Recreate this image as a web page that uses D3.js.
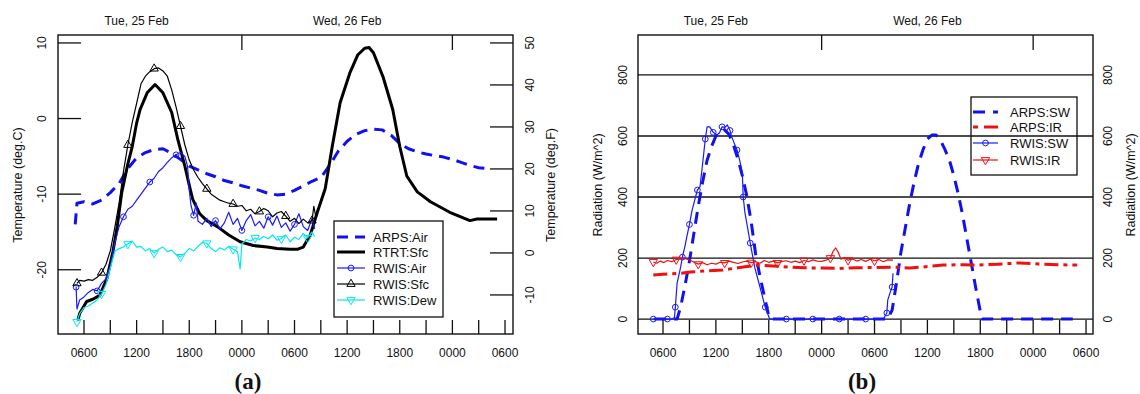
<!DOCTYPE html>
<html><head><meta charset="utf-8">
<script src="https://cdn.jsdelivr.net/npm/d3@7"></script>
<style>body{margin:0;background:#fff} text{font-family:"Liberation Sans",Arial,sans-serif;fill:#111} text.lab{font-family:"Liberation Serif","Times New Roman",serif;font-weight:bold}</style>
</head><body><svg id="c" width="1140" height="394"></svg>
<script>
// ---------- DATA (hours since Tue 25 Feb 00:00, value) ----------
const arpsAir = [[5.0,-14.0],[5.2,-11.2],[6,-11.0],[7,-11.3],[8,-10.8],[9,-9.8],[10,-8.6],[11,-6.6],[12,-5.2],[13,-4.5],[14,-4.1],[15,-4.0],[16,-4.6],[17,-5.4],[18,-6.3],[19,-6.8],[20,-7.3],[21,-7.7],[22,-8.2],[23,-8.5],[24,-8.9],[25,-9.2],[26,-9.5],[27,-9.9],[28,-10.1],[29,-10.0],[30,-9.5],[31,-8.9],[32,-8.3],[33,-7.8],[34,-6.2],[35,-4.3],[36,-3.0],[37,-2.1],[38,-1.6],[39,-1.4],[40,-1.5],[41,-2.2],[42,-3.3],[43,-4.0],[44,-4.4],[45,-4.7],[46,-4.9],[47,-5.1],[48,-5.4],[49,-5.8],[50,-6.2],[51,-6.5],[52,-6.6]];
const rtrtSfc = [[5.3,-26.7],[5.5,-25.8],[6.3,-24.2],[7,-23.9],[7.8,-23.4],[8.6,-21.2],[9.3,-17.6],[9.8,-14.2],[10.3,-9.8],[11,-6],[11.5,-3.7],[12,-0.6],[12.4,1.2],[13.2,3.4],[14.1,4.5],[15,3.4],[16,0.8],[16.7,-2.8],[17.5,-6.3],[18.1,-9.3],[18.4,-10.7],[19.2,-12.6],[20,-13.5],[21.2,-14.3],[22.5,-15.4],[23.8,-16.3],[25.3,-16.8],[26.9,-17.0],[28,-17.2],[29.5,-17.3],[30.3,-17.3],[31,-17.0],[31.8,-15.4],[32.6,-12.4],[33.5,-9.3],[34.3,-3.7],[35.2,2.1],[36.3,6],[37.2,8.4],[38,9.3],[38.5,9.4],[39,8.7],[40.1,5.5],[41.2,1.2],[42,-3.7],[42.8,-7.6],[44,-9.7],[45.5,-11],[47.7,-12.4],[50,-13.5],[50.8,-13.3],[53.1,-13.3]];
const rwisAir = [[5.1,-22.3],[5.2,-25.2],[5.5,-24.0],[6,-23.6],[6.5,-23.0],[7,-22.6],[7.5,-22.8],[8,-21.8],[8.5,-21.2],[9,-19.5],[9.5,-16.5],[10,-14.3],[10.5,-13.0],[11,-12.0],[11.5,-11.6],[12,-10.8],[12.5,-10.0],[13,-9.2],[13.5,-8.4],[14,-7.9],[14.5,-7.0],[15,-6.5],[15.5,-5.8],[16,-5.2],[16.5,-4.8],[17,-4.5],[17.5,-5.0],[17.8,-6.3],[18.0,-9.5],[18.2,-11.5],[18.5,-12.8],[18.8,-11.2],[19,-13.6],[19.5,-14.0],[20,-13.2],[20.5,-14.3],[21,-13.5],[21.5,-14.6],[22,-13.8],[22.5,-12.4],[23,-14.0],[23.5,-13.2],[24,-14.8],[24.5,-13.5],[25,-12.7],[25.5,-14.2],[26,-13.6],[26.5,-14.5],[27,-13.0],[27.5,-14.1],[28,-12.9],[28.5,-14.4],[29,-13.8],[29.5,-14.9],[30,-14.0],[30.5,-12.6],[31,-14.3],[31.5,-14.8],[32,-13.2],[32.3,-14.6]];
const rwisSfc = [[5.2,-21.8],[5.5,-21.4],[6,-21.5],[6.5,-21.3],[7,-21.4],[7.5,-21.0],[8,-20.4],[8.5,-19.3],[9,-17.5],[9.5,-14.5],[10,-11.2],[10.5,-7.0],[11,-3.5],[11.5,-0.5],[12,2.0],[12.5,4.6],[13,5.6],[13.5,6.2],[14,6.6],[14.5,6.7],[15,6.3],[15.5,5.6],[16,3.8],[16.5,1.5],[17,-1.0],[17.5,-3.5],[18,-5.5],[18.5,-6.8],[19,-7.8],[19.5,-8.6],[20,-9.3],[20.5,-10.0],[21,-10.4],[21.5,-10.8],[22,-11.0],[22.5,-11.2],[23,-11.3],[23.5,-11.6],[24,-11.5],[24.5,-12.2],[25,-12.0],[25.5,-12.6],[26,-12.3],[26.5,-11.9],[27,-12.2],[27.5,-13.0],[28,-12.5],[28.5,-12.3],[29,-12.9],[29.5,-13.6],[30,-13.2],[30.5,-13.9],[31,-13.3],[31.5,-13.8],[32,-13.5],[32.2,-11.6],[32.4,-12.8]];
const rwisDew = [[5.2,-26.9],[5.5,-25.8],[6,-25.0],[6.5,-24.8],[7,-24.4],[7.5,-24.0],[8,-23.2],[8.5,-22.0],[9,-19.8],[9.5,-17.6],[10,-17.2],[10.5,-17.0],[11,-16.6],[11.5,-16.2],[12,-17.0],[12.5,-16.9],[13,-17.5],[13.5,-17.2],[14,-17.8],[14.5,-17.3],[15,-17.0],[15.5,-17.6],[16,-17.4],[16.5,-18.0],[17,-18.3],[17.5,-17.8],[18,-17.2],[18.5,-17.5],[19,-16.9],[19.5,-16.4],[20,-16.5],[20.5,-17.2],[21,-17.6],[21.5,-17.1],[22,-17.4],[22.5,-16.9],[23,-17.3],[23.5,-17.6],[23.8,-19.9],[24.0,-16.6],[24.5,-16.0],[25,-16.2],[25.5,-15.8],[26,-16.0],[26.5,-15.6],[27,-15.9],[27.5,-15.4],[28,-16.1],[28.5,-15.9],[29,-15.4],[29.5,-16.3],[30,-15.7],[30.5,-16.0],[31,-15.2],[31.5,-15.8],[32,-15.0],[32.3,-15.6]];

const arpsSW = [[5,0],[6,0],[7.0,0],[7.6,0],[8,40],[8.5,110],[9,190],[9.5,280],[10,370],[10.5,450],[11,520],[11.5,565],[12,600],[12.5,615],[13,620],[13.5,605],[14,570],[14.5,525],[15,470],[15.5,405],[16,320],[16.5,215],[17,140],[17.5,75],[18,10],[18.2,0],[20,0],[24,0],[28,0],[31.5,0],[32,30],[32.5,120],[33,220],[33.5,300],[34,380],[34.5,450],[35,510],[35.5,555],[36,590],[36.5,603],[37,603],[37.5,585],[38,555],[38.5,520],[39,470],[39.5,410],[40,340],[40.5,260],[41,180],[41.5,100],[42,25],[42.2,0],[44,0],[48,0],[52.5,0]];
const arpsIR = [[4.9,144],[6,147],[8,150],[9.1,154],[11,158],[12.8,161],[14.5,168],[16.7,177],[18.5,174],[20.4,170],[22,168],[24.2,167],[26,166],[28,168],[30,169],[32.1,170],[34,167],[36,172],[37.8,177],[40,178],[41.6,177],[44,180],[46.5,184],[49,180],[51,178],[53,177]];
const rwisSW = [[4.9,0],[5.5,0],[6,0],[6.5,0],[7,0],[7.3,5],[7.4,39],[7.6,118],[8.0,170],[8.2,203],[8.5,240],[8.7,269],[9.0,310],[9.3,357],[9.6,390],[9.9,423],[10.2,433],[10.5,511],[10.8,590],[11.0,630],[11.3,630],[11.7,612],[12.1,603],[12.4,610],[12.7,630],[13.0,628],[13.3,636],[13.6,618],[13.8,597],[14.1,575],[14.4,554],[14.7,520],[15.0,479],[15.1,400],[15.3,348],[15.5,315],[15.9,249],[16.4,170],[17.0,105],[17.6,39],[18.1,0],[19,0],[20,0],[21,0],[22,0],[23,0],[24,0],[25,0],[26,0],[27,0],[28,0],[29,0],[30,0],[31,0],[31.4,20],[31.5,62],[31.8,90],[32.0,105],[32.1,150]];
const rwisIR = [[4.9,187],[5.3,183],[5.7,190],[6.1,185],[6.5,192],[7,188],[7.5,195],[8,198],[8.3,200],[8.7,196],[9.1,193],[9.5,186],[10,180],[10.5,185],[11,178],[11.5,183],[12,180],[12.5,186],[13,184],[13.5,190],[14,186],[14.5,182],[15,187],[15.5,190],[16,185],[16.5,188],[17,183],[17.5,192],[18,186],[18.5,190],[19,184],[19.5,189],[20,191],[20.5,186],[21,190],[21.5,185],[22,192],[22.5,188],[23,194],[23.5,190],[24,189],[24.5,193],[25,200],[25.3,222],[25.6,233],[25.9,218],[26.2,196],[26.6,202],[27,193],[27.5,197],[28,190],[28.5,195],[29,189],[29.5,196],[30,191],[30.5,195],[31,188],[31.5,194],[32.1,193]];

const tempTicksC = [-20,-10,0,10];
const tempTicksF = [-10,0,10,20,30,40,50];
const radTicks = [0,200,400,600,800];
const legendA = ["ARPS:Air","RTRT:Sfc","RWIS:Air","RWIS:Sfc","RWIS:Dew"];
const legendB = ["ARPS:SW","ARPS:IR","RWIS:SW","RWIS:IR"];

// ---------- DRAWING ----------
const svg = d3.select("#c");
const base = Date.UTC(2003,1,25);
const T = h => new Date(base + h*3600e3);
const fmtH = d3.utcFormat("%H%M");
const fmtDay = d3.utcFormat("%a, %d %b");
const Y0 = 35, Y1 = 334;

function frame(g, xs, x0, x1) {
  g.append("rect").attr("x",x0).attr("y",Y0).attr("width",x1-x0).attr("height",Y1-Y0)
    .attr("fill","none").attr("stroke","#111").attr("stroke-width",1.4);
  const ticks = xs.ticks(d3.utcHour.every(3)).filter(d => xs(d) > x0+2 && xs(d) < x1-2);
  ticks.forEach(d => {
    const x = xs(d);
    g.append("line").attr("x1",x).attr("x2",x).attr("y1",Y1).attr("y2",Y1-14).attr("stroke","#111").attr("stroke-width",1.3);
    if (d.getUTCHours() % 6 === 0)
      g.append("text").attr("x",x).attr("y",357).attr("text-anchor","middle").attr("font-size",12).text(fmtH(d));
    if (d.getUTCHours() === 0)
      g.append("line").attr("x1",x).attr("x2",x).attr("y1",Y0).attr("y2",Y0+15).attr("stroke","#111").attr("stroke-width",1.3);
    if (d.getUTCHours() === 12)
      g.append("text").attr("x",x).attr("y",25).attr("text-anchor","middle").attr("font-size",12).text(fmtDay(d));
  });
}
function rotLabel(g, x, y, txt, size) {
  g.append("text").attr("transform",`translate(${x},${y}) rotate(-90)`).attr("text-anchor","middle")
    .attr("dominant-baseline","central").attr("font-size",size).text(txt);
}
function series(g, data, xs, ys, opt) {
  const line = d3.line().x(d => xs(T(d[0]))).y(d => ys(d[1]));
  g.append("path").datum(data).attr("d",line).attr("fill","none").attr("stroke",opt.color)
    .attr("stroke-width",opt.w).attr("stroke-dasharray",opt.dash||null).attr("stroke-linejoin","round");
  if (opt.sym) {
    const s = d3.symbol().type(opt.sym).size(opt.size||28);
    g.selectAll(null).data(data.filter((d,i) => i % opt.every === 0)).enter().append("path")
      .attr("d", s).attr("transform", d => `translate(${xs(T(d[0]))},${ys(d[1])})${opt.rot?" rotate(180)":""}`)
      .attr("fill","none").attr("stroke",opt.color).attr("stroke-width",1);
  }
}
function legend(g, items, bx, by, bw, bh, rows, lx0, lx1, tx) {
  g.append("rect").attr("x",bx).attr("y",by).attr("width",bw).attr("height",bh)
    .attr("fill","none").attr("stroke","#111").attr("stroke-width",1.3);
  items.forEach((it,i) => {
    const y = rows[i];
    g.append("line").attr("x1",lx0).attr("x2",lx1).attr("y1",y).attr("y2",y).attr("stroke",it.color)
      .attr("stroke-width",it.w).attr("stroke-dasharray",it.dash||null);
    if (it.sym) g.append("path").attr("d",d3.symbol().type(it.sym).size(it.size||28))
      .attr("transform",`translate(${(lx0+lx1)/2},${y})${it.rot?" rotate(180)":""}`)
      .attr("fill","none").attr("stroke",it.color).attr("stroke-width",1);
    g.append("text").attr("x",tx).attr("y",y).attr("dominant-baseline","central").attr("font-size",13).text(it.name);
  });
}

// ---- Panel (a) ----
const A = {x0:58, x1:513};
const xa = d3.scaleUtc().domain([T(3.036),T(54.91)]).range([A.x0,A.x1]);
const yC = d3.scaleLinear().domain([-28.5,11.05]).range([Y1,Y0]);
const yF = d3.scaleLinear().domain([-28.5*1.8+32, 11.05*1.8+32]).range([Y1,Y0]);
const ga = svg.append("g");
svg.append("clipPath").attr("id","ca").append("rect").attr("x",A.x0).attr("y",Y0).attr("width",A.x1-A.x0).attr("height",Y1-Y0);
const pa = ga.append("g").attr("clip-path","url(#ca)");
const stylesA = [
  {name:legendA[0], color:"#1010f0", w:3, dash:"11,7"},
  {name:legendA[1], color:"#000", w:3},
  {name:legendA[2], color:"#1a1aff", w:1.2, sym:d3.symbolCircle, every:6, size:26},
  {name:legendA[3], color:"#000", w:1.2, sym:d3.symbolTriangle, every:6, size:30},
  {name:legendA[4], color:"#00e8f0", w:1.2, sym:d3.symbolTriangle, every:6, size:30, rot:true}
];
[arpsAir, rtrtSfc, rwisAir, rwisSfc, rwisDew].forEach((s,i) => series(pa, s, xa, yC, stylesA[i]));
frame(ga, xa, A.x0, A.x1);
tempTicksC.forEach(v => {
  ga.append("line").attr("x1",A.x0).attr("x2",A.x0+23).attr("y1",yC(v)).attr("y2",yC(v)).attr("stroke","#111").attr("stroke-width",1.3);
  rotLabel(ga, 42, yC(v), v, 12);
});
tempTicksF.forEach(v => {
  ga.append("line").attr("x1",A.x1).attr("x2",A.x1-23).attr("y1",yF(v)).attr("y2",yF(v)).attr("stroke","#111").attr("stroke-width",1.3);
  rotLabel(ga, 530, yF(v), v, 12);
});
rotLabel(ga, 18, 185, "Temperature (deg.C)", 12.5);
rotLabel(ga, 551, 185, "Temperature (deg.F)", 12.5);
legend(ga, stylesA, 334, 221, 109, 96, [237,252,268,284,300], 337, 365, 373);
ga.append("text").attr("class","lab").attr("x",248).attr("y",389).attr("text-anchor","middle").attr("font-size",23).text("(a)");

// ---- Panel (b) ----
const B = {x0:638, x1:1093};
const xb = d3.scaleUtc().domain([T(3.163),T(54.79)]).range([B.x0,B.x1]);
const yR = d3.scaleLinear().domain([-49,931]).range([Y1,Y0]);
const gb = svg.append("g");
svg.append("clipPath").attr("id","cb").append("rect").attr("x",B.x0).attr("y",Y0).attr("width",B.x1-B.x0).attr("height",Y1-Y0);
radTicks.forEach(v => {
  gb.append("line").attr("x1",B.x0).attr("x2",B.x1).attr("y1",yR(v)).attr("y2",yR(v)).attr("stroke","#111").attr("stroke-width",1.3);
  rotLabel(gb, 623, yR(v), v, 12);
  rotLabel(gb, 1108, yR(v), v, 12);
});
const pb = gb.append("g").attr("clip-path","url(#cb)");
const stylesB = [
  {name:legendB[0], color:"#1010f0", w:3, dash:"12,8"},
  {name:legendB[1], color:"#f01010", w:3, dash:"14,5,4,5"},
  {name:legendB[2], color:"#1a1aff", w:1.2, sym:d3.symbolCircle, every:3, size:26},
  {name:legendB[3], color:"#f01010", w:1.2, sym:d3.symbolTriangle, every:6, size:30, rot:true}
];
[arpsSW, arpsIR, rwisSW, rwisIR].forEach((s,i) => series(pb, s, xb, yR, stylesB[i]));
frame(gb, xb, B.x0, B.x1);
rotLabel(gb, 598, 185, "Radiation (W/m^2)", 12.5);
rotLabel(gb, 1131, 185, "Radiation (W/m^2)", 12.5);
legend(gb, [Object.assign({},stylesB[0]), Object.assign({},stylesB[1],{dash:"5,6,14,0"}), stylesB[2], stylesB[3]], 971, 97, 106, 78, [112,127,143,160], 973, 998, 1010);
gb.append("text").attr("class","lab").attr("x",862).attr("y",389).attr("text-anchor","middle").attr("font-size",23).text("(b)");
</script></body></html>
